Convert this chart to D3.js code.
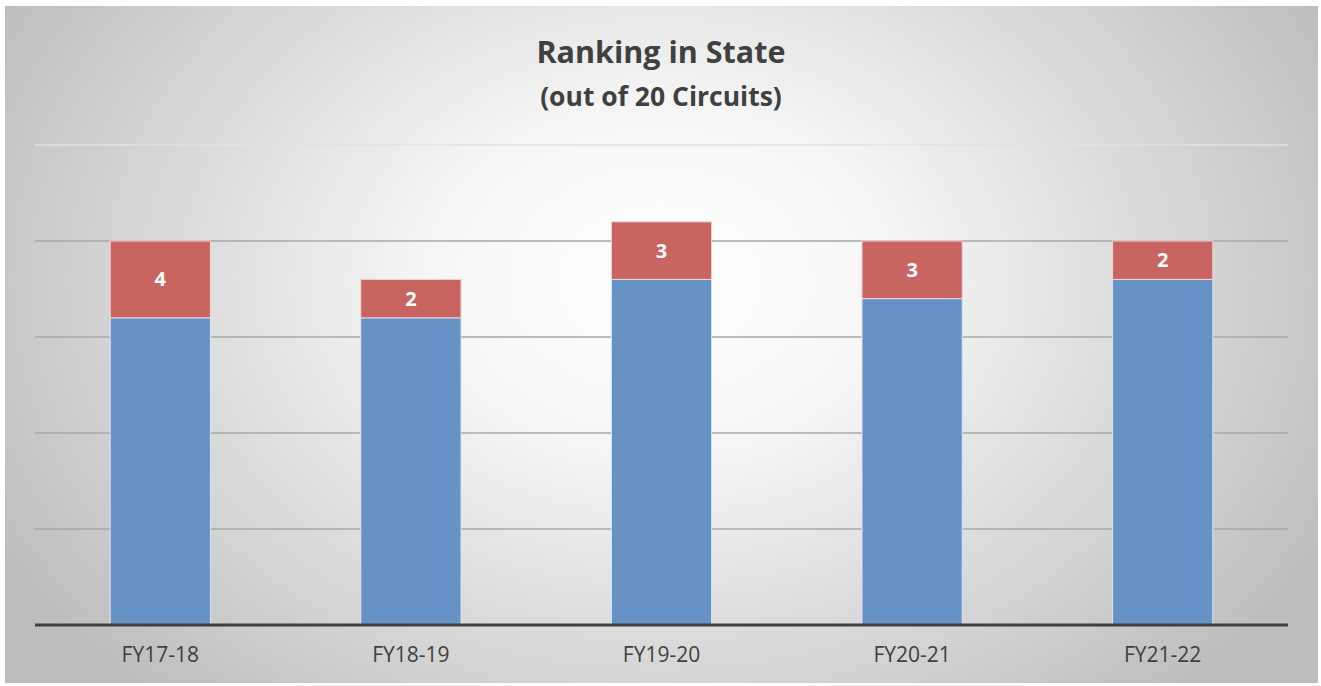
<!DOCTYPE html>
<html>
<head>
<meta charset="utf-8">
<script src="https://cdn.jsdelivr.net/npm/d3@7"></script>
<style>
  body { margin: 0; background: #fff; }
  svg { display: block; font-family: "Open Sans", "Liberation Sans", sans-serif; }
</style>
</head>
<body>
<svg id="chart" width="1321" height="686"></svg>
<script>
const categories = ["FY17-18", "FY18-19", "FY19-20", "FY20-21", "FY21-22"];
const baseValues = [16, 16, 18, 17, 18];
const rankValues = [4, 2, 3, 3, 2];
const yTicks = [0, 5, 10, 15, 20, 25];

const width = 1321, height = 686;
const frame = { left: 5, top: 6, right: 1318, bottom: 683 };
const margin = { top: 145, right: 33, bottom: 61, left: 35 };

const svg = d3.select("#chart");

// background gradient like the office chart
const defs = svg.append("defs");
const grad = defs.append("radialGradient")
  .attr("id", "bg")
  .attr("gradientUnits", "userSpaceOnUse")
  .attr("cx", 660).attr("cy", 280).attr("r", 760)
  .attr("gradientTransform", "translate(660,280) scale(1,0.75) translate(-660,-280)");
grad.append("stop").attr("offset", "0").attr("stop-color", "#ffffff");
grad.append("stop").attr("offset", "0.3").attr("stop-color", "#f6f6f6");
grad.append("stop").attr("offset", "1").attr("stop-color", "#bdbdbd");

svg.append("rect")
  .attr("x", frame.left).attr("y", frame.top)
  .attr("width", frame.right - frame.left)
  .attr("height", frame.bottom - frame.top)
  .attr("fill", "url(#bg)");

const x = d3.scaleBand()
  .domain(categories)
  .range([margin.left, width - margin.right])
  .paddingInner(0.6)
  .paddingOuter(0.3);

const y = d3.scaleLinear()
  .domain([0, 25])
  .range([height - margin.bottom, margin.top]);

// gridlines
svg.append("g")
  .selectAll("line")
  .data(yTicks.slice(1))
  .enter()
  .append("line")
  .attr("x1", margin.left)
  .attr("x2", width - margin.right)
  .attr("y1", (d) => y(d))
  .attr("y2", (d) => y(d))
  .attr("stroke", (d) => (d === 25 ? "#e2e2e2" : "#a9a9a9"))
  .attr("stroke-width", 1.3);

const rows = categories.map((c, i) => ({ cat: c, base: baseValues[i], rank: rankValues[i] }));

svg.append("g")
  .selectAll("rect")
  .data(rows)
  .enter()
  .append("rect")
  .attr("x", (d) => x(d.cat))
  .attr("y", (d) => y(d.base))
  .attr("width", x.bandwidth())
  .attr("height", (d) => y(0) - y(d.base))
  .attr("fill", "#6792c5")
  .attr("stroke", "#dbe5f2")
  .attr("stroke-width", 1);

svg.append("g")
  .selectAll("rect")
  .data(rows)
  .enter()
  .append("rect")
  .attr("x", (d) => x(d.cat))
  .attr("y", (d) => y(d.base + d.rank))
  .attr("width", x.bandwidth())
  .attr("height", (d) => y(d.base) - y(d.base + d.rank))
  .attr("fill", "#c96561")
  .attr("stroke", "#f0d6d5")
  .attr("stroke-width", 1);

svg.append("g")
  .selectAll("text")
  .data(rows)
  .enter()
  .append("text")
  .attr("x", (d) => x(d.cat) + x.bandwidth() / 2)
  .attr("y", (d) => (y(d.base) + y(d.base + d.rank)) / 2 + 7)
  .attr("text-anchor", "middle")
  .style("font-size", "20px")
  .style("font-weight", "bold")
  .style("fill", "#ffffff")
  .text((d) => d.rank);

// x axis
const xAxis = svg.append("g")
  .attr("transform", `translate(0,${y(0)})`)
  .call(d3.axisBottom(x).tickSize(0).tickPadding(22));
xAxis.select(".domain")
  .attr("stroke", "#404040")
  .attr("stroke-width", 3)
  .attr("d", `M${margin.left},0H${width - margin.right}`);
xAxis.selectAll("text")
  .style("font-size", "21px")
  .style("fill", "#404040")
  .style("font-family", "'Open Sans', 'Liberation Sans', sans-serif");

// title
svg.append("text")
  .attr("x", 661).attr("y", 63)
  .attr("text-anchor", "middle")
  .style("font-size", "30.5px")
  .style("font-weight", "bold")
  .style("fill", "#404040")
  .text("Ranking in State");

svg.append("text")
  .attr("x", 661).attr("y", 106)
  .attr("text-anchor", "middle")
  .style("font-size", "26.5px")
  .style("font-weight", "bold")
  .style("fill", "#404040")
  .text("(out of 20 Circuits)");
</script>
</body>
</html>
